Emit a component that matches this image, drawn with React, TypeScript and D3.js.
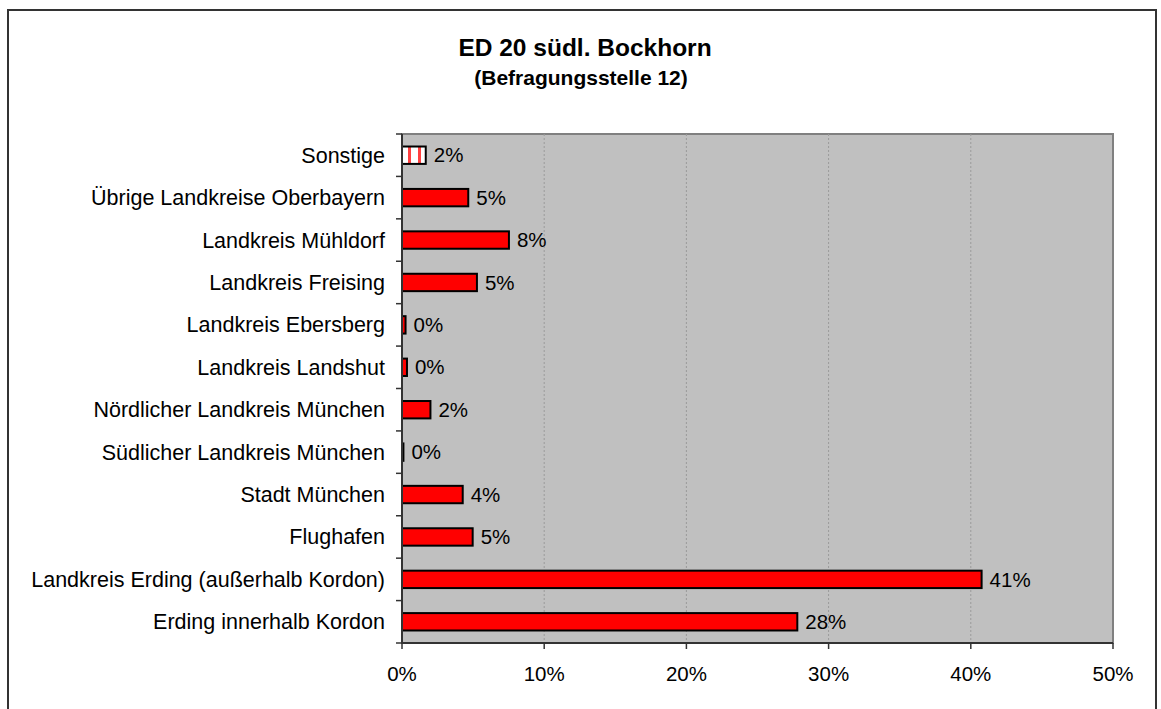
import React from "react";
import * as d3 from "d3";

const categories = [
  "Sonstige",
  "Übrige Landkreise Oberbayern",
  "Landkreis Mühldorf",
  "Landkreis Freising",
  "Landkreis Ebersberg",
  "Landkreis Landshut",
  "Nördlicher Landkreis München",
  "Südlicher Landkreis München",
  "Stadt München",
  "Flughafen",
  "Landkreis Erding (außerhalb Kordon)",
  "Erding innerhalb Kordon",
];
const values = [1.67, 4.66, 7.52, 5.27, 0.25, 0.35, 2.0, 0.1, 4.27, 4.97, 40.76, 27.8];
const valueLabels = ["2%", "5%", "8%", "5%", "0%", "0%", "2%", "0%", "4%", "5%", "41%", "28%"];
const xTicks = [0, 10, 20, 30, 40, 50];
const title = "ED 20 südl. Bockhorn";
const subtitle = "(Befragungsstelle 12)";

const W = 1161;
const H = 709;
const plot = { left: 402, right: 1113, top: 134, bottom: 643 };
const font = "Arial, 'Liberation Sans', sans-serif";

export default function App() {
  const x = d3.scaleLinear().domain([0, 50]).range([plot.left, plot.right]);
  const y = d3
    .scaleBand<string>()
    .domain(categories)
    .range([plot.top, plot.bottom])
    .paddingInner(0.59)
    .paddingOuter(0.295);
  const step = y.step();
  const boundaries = d3.range(categories.length + 1).map((i) => plot.top + i * step);

  return (
    <svg
      width={W}
      height={H}
      style={{ position: "absolute", left: 0, top: 0, background: "#fff" }}
      fontFamily={font}
    >
      <defs>
        <pattern id="stripes" width="10" height="10" patternUnits="userSpaceOnUse" x={plot.left}>
          <rect width="10" height="10" fill="#fff" />
          <rect x="6" width="3" height="10" fill="#ff4040" />
        </pattern>
      </defs>
      <rect x={0} y={0} width={W} height={H} fill="#fff" />
      <rect x={8} y={10} width={1148} height={720} fill="#fff" stroke="#333" strokeWidth={2} />

      <text x={585} y={56} textAnchor="middle" fontWeight="bold" fontSize={24.5} fill="#000">
        {title}
      </text>
      <text x={581} y={85} textAnchor="middle" fontWeight="bold" fontSize={21} fill="#000">
        {subtitle}
      </text>

      {/* plot area */}
      <rect
        x={plot.left}
        y={plot.top}
        width={plot.right - plot.left}
        height={plot.bottom - plot.top}
        fill="#c0c0c0"
        stroke="#808080"
        strokeWidth={2}
      />
      {xTicks.slice(1, -1).map((t) => (
        <line
          key={"g" + t}
          x1={x(t)}
          x2={x(t)}
          y1={plot.top}
          y2={plot.bottom}
          stroke="#9a9a9a"
          strokeWidth={1}
          strokeDasharray="2,2"
        />
      ))}

      {/* bars */}
      {categories.map((c, i) => (
        <rect
          key={c}
          x={x(0)}
          y={y(c)!}
          width={Math.max(x(values[i]) - x(0), 1)}
          height={y.bandwidth()}
          fill={i === 0 ? "url(#stripes)" : "#ff0000"}
          stroke="#000"
          strokeWidth={2}
        />
      ))}

      {/* axes */}
      <line x1={plot.left} x2={plot.left} y1={plot.top} y2={plot.bottom + 1} stroke="#333" strokeWidth={2} />
      <line x1={plot.left} x2={plot.right} y1={plot.bottom} y2={plot.bottom} stroke="#333" strokeWidth={2} />
      {boundaries.map((b, i) => (
        <line key={"lt" + i} x1={plot.left - 6} x2={plot.left} y1={b} y2={b} stroke="#333" strokeWidth={1.5} />
      ))}
      {xTicks.map((t) => (
        <line key={"bt" + t} x1={x(t)} x2={x(t)} y1={plot.bottom} y2={plot.bottom + 6} stroke="#333" strokeWidth={1.5} />
      ))}

      {/* category labels */}
      {categories.map((c) => (
        <text
          key={"l" + c}
          x={385}
          y={y(c)! + y.bandwidth() / 2}
          dy="0.35em"
          textAnchor="end"
          fontSize={21.5}
          fill="#000"
        >
          {c}
        </text>
      ))}

      {/* value labels */}
      {categories.map((c, i) => (
        <text
          key={"v" + c}
          x={x(values[i]) + 8}
          y={y(c)! + y.bandwidth() / 2}
          dy="0.35em"
          fontSize={20.5}
          fill="#000"
        >
          {valueLabels[i]}
        </text>
      ))}

      {/* x tick labels */}
      {xTicks.map((t) => (
        <text key={"xl" + t} x={x(t)} y={681} textAnchor="middle" fontSize={20.5} fill="#000">
          {t + "%"}
        </text>
      ))}
    </svg>
  );
}
